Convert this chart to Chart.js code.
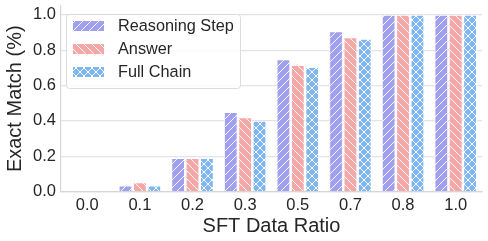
<!DOCTYPE html>
<html>
<head>
<meta charset="utf-8">
<script src="https://cdn.jsdelivr.net/npm/chart.js@4"></script>
<style>
  body { margin: 0; background: #fff; }
  #wrap { width: 488px; height: 241px; }
</style>
</head>
<body>
<div id="wrap"><canvas id="matchChart" width="488" height="241"></canvas></div>
<script>
const ratios = ["0.0", "0.1", "0.2", "0.3", "0.5", "0.7", "0.8", "1.0"];
const reasoningStep = [0, 0.034, 0.19, 0.45, 0.748, 0.907, 1.0, 1.0];
const answer = [0, 0.053, 0.19, 0.42, 0.716, 0.873, 1.0, 1.0];
const fullChain = [0, 0.034, 0.19, 0.40, 0.705, 0.864, 1.0, 1.0];
const seriesNames = ["Reasoning Step", "Answer", "Full Chain"];

const FONT = "'Liberation Sans', Arial, sans-serif";

// hatch patterns like matplotlib's '//', '\\' and 'xx'
function hatch(color, kind) {
    const s = 8;
    const c = document.createElement("canvas");
    c.width = s; c.height = s;
    const g = c.getContext("2d");
    g.fillStyle = color;
    g.fillRect(0, 0, s, s);
    g.strokeStyle = "rgba(255,255,255,0.95)";
    g.lineWidth = 1;
    const fwd = () => {
        g.beginPath();
        g.moveTo(-1, s + 1); g.lineTo(s + 1, -1);
        g.moveTo(-1, 1); g.lineTo(1, -1);
        g.moveTo(s - 1, s + 1); g.lineTo(s + 1, s - 1);
        g.stroke();
    };
    const back = () => {
        g.beginPath();
        g.moveTo(-1, -1); g.lineTo(s + 1, s + 1);
        g.moveTo(s - 1, -1); g.lineTo(s + 1, 1);
        g.moveTo(-1, s - 1); g.lineTo(1, s + 1);
        g.stroke();
    };
    if (kind === "/" || kind === "x") fwd();
    if (kind === "\\" || kind === "x") back();
    return g.createPattern(c, "repeat");
}

const legendInside = {
    id: "legendInside",
    afterDraw(chart) {
        const ctx = chart.ctx;
        const x0 = 66, y0 = 14;
        const w = 174, h = 74;
        ctx.save();
        ctx.fillStyle = "rgba(255,255,255,0.85)";
        ctx.strokeStyle = "#dcdcdc";
        ctx.lineWidth = 1;
        ctx.beginPath();
        ctx.roundRect(x0 + 0.5, y0 + 0.5, w, h, 3);
        ctx.fill();
        ctx.stroke();
        ctx.font = "16.3px " + FONT;
        ctx.textBaseline = "middle";
        chart.data.datasets.forEach((ds, i) => {
            const cy = y0 + 12 + i * 23;
            ctx.fillStyle = ds.backgroundColor;
            ctx.fillRect(x0 + 7, cy - 5, 31, 10);
            ctx.fillStyle = "#262626";
            ctx.fillText(ds.label, x0 + 52, cy + 1);
        });
        ctx.restore();
    }
};

const colors = ["#a0a0ee", "#f3a7a7", "#7fb6ee"];
const kinds = ["/", "\\", "x"];
const values = [reasoningStep, answer, fullChain];

new Chart(document.getElementById("matchChart"), {
    type: "bar",
    data: {
        labels: ratios,
        datasets: values.map((v, i) => ({
            label: seriesNames[i],
            data: v,
            backgroundColor: hatch(colors[i], kinds[i]),
            borderColor: "#ffffff",
            borderWidth: 1,
            categoryPercentage: 0.82,
            barPercentage: 0.96
        }))
    },
    options: {
        responsive: false,
        animation: false,
        layout: { padding: { left: 5, right: 6, top: 6, bottom: 5 } },
        plugins: {
            legend: { display: false },
            tooltip: { enabled: false }
        },
        scales: {
            x: {
                grid: { display: false, drawTicks: false },
                border: { color: "#d6d6d6", width: 1.2 },
                ticks: { color: "#262626", font: { family: FONT, size: 16.5, lineHeight: 1 }, padding: 6 },
                title: { display: true, text: "SFT Data Ratio", color: "#262626", font: { family: FONT, size: 20, lineHeight: 1 }, padding: { top: -4, bottom: 0 } }
            },
            y: {
                min: 0,
                max: 1.05,
                afterFit: s => { s.paddingTop = 0; },
                grid: { color: "#e3e3e3", lineWidth: 1.2, drawTicks: false },
                border: { color: "#d6d6d6", width: 1.2 },
                ticks: {
                    stepSize: 0.2,
                    includeBounds: false,
                    color: "#262626",
                    font: { family: FONT, size: 16.5, lineHeight: 1 },
                    padding: 5,
                    callback: v => v.toFixed(1)
                },
                title: { display: true, text: "Exact Match (%)", color: "#262626", font: { family: FONT, size: 20, lineHeight: 1 }, padding: { top: 0, bottom: 3 } }
            }
        }
    },
    plugins: [legendInside]
});
</script>
</body>
</html>
